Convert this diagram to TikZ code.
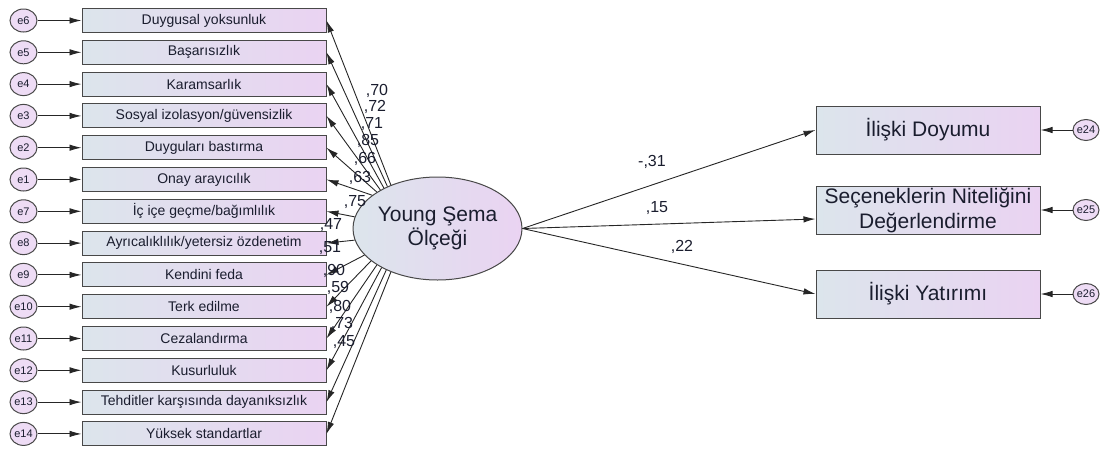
\documentclass[tikz,border=0pt]{standalone}
\usepackage{fontspec}
\setmainfont{Liberation Sans}
\usepackage{xcolor}
\usetikzlibrary{arrows.meta,shapes.geometric}
\definecolor{kutumavi}{HTML}{DCE5EC}
\definecolor{kutumor}{HTML}{EAD3F2}
\definecolor{hatamor}{HTML}{EEDCF5}
\definecolor{yazi}{HTML}{1A1D2E}
\definecolor{cizgi}{HTML}{484848}
\tikzset{
  gst/.style={draw=cizgi,line width=1pt,left color=kutumavi,right color=kutumor,minimum width=244pt,minimum height=24pt,inner sep=0pt,text=yazi,font=\fontsize{14}{16}\selectfont},
  sonuc/.style={draw=cizgi,line width=1pt,left color=kutumavi,right color=kutumor,minimum width=224pt,minimum height=48pt,inner sep=0pt,align=center,text=yazi,font=\fontsize{21}{25}\selectfont},
  latent/.style={ellipse,draw=cizgi,line width=1pt,left color=kutumavi,right color=kutumor,minimum width=165pt,minimum height=103pt,inner sep=0pt,align=center,text=yazi,font=\fontsize{21}{24}\selectfont},
  hata/.style={ellipse,draw=cizgi,line width=1pt,fill=hatamor,minimum width=27pt,minimum height=23pt,inner sep=0pt,text=yazi,font=\fontsize{11}{12}\selectfont},
  ok/.style={draw=black!85,line width=0.9pt,-{Latex[length=12pt,width=6.5pt]}},
  yk/.style={inner sep=0pt,text=yazi,font=\fontsize{16}{18}\selectfont}
}
\newcommand{\gosterge}[4]{\node[hata] (#1) at (23.5,#2) {#1}; \node[gst] (#3) at (204,#2) {#4}; \draw[ok] (#1) -- (#3);}

\begin{document}
\begin{tikzpicture}[x=1pt,y=-1pt]
\useasboundingbox (0,0) rectangle (1101,448);
\node[latent] (ysm) at (437.5,228.5) {Young Şema\\Ölçeği};
\gosterge{e6}{20.5}{b1}{Duygusal yoksunluk}
\gosterge{e5}{52.3}{b2}{Başarısızlık}
\gosterge{e4}{84.1}{b3}{Karamsarlık}
\gosterge{e3}{115.9}{b4}{Sosyal izolasyon/güvensizlik}
\gosterge{e2}{147.7}{b5}{Duyguları bastırma}
\gosterge{e1}{179.5}{b6}{Onay arayıcılık}
\gosterge{e7}{211.3}{b7}{İç içe geçme/bağımlılık}
\gosterge{e8}{243.1}{b8}{Ayrıcalıklılık/yetersiz özdenetim}
\gosterge{e9}{274.9}{b9}{Kendini feda}
\gosterge{e10}{306.7}{b10}{Terk edilme}
\gosterge{e11}{338.5}{b11}{Cezalandırma}
\gosterge{e12}{370.3}{b12}{Kusurluluk}
\gosterge{e13}{402.1}{b13}{Tehditler karşısında dayanıksızlık}
\gosterge{e14}{433.9}{b14}{Yüksek standartlar}
\draw[ok] (ysm.137) -- (b1.east); \node[yk] (l1) at (377,91) {,70};
\draw[ok] (ysm.140) -- (b2.east); \node[yk] (l2) at (375,107) {,72};
\draw[ok] (ysm.143) -- (b3.east); \node[yk] (l3) at (372,124) {,71};
\draw[ok] (ysm.146) -- (b4.east); \node[yk] (l4) at (368,141) {,85};
\draw[ok] (ysm.149) -- (b5.east); \node[yk] (l5) at (365,159) {,66};
\draw[ok] (ysm.153) -- (b6.east); \node[yk] (l6) at (360,178) {,63};
\draw[ok] (ysm.172) -- (b7.east); \node[yk] (l7) at (355,202) {,75};
\draw[ok] (ysm.188) -- (b8.east); \node[yk] (l8) at (331,225) {,47};
\draw[ok] (ysm.200) -- (b9.east); \node[yk] (l9) at (330,248) {,51};
\draw[ok] (ysm.206) -- (b10.east); \node[yk] (l10) at (334,271) {,90};
\draw[ok] (ysm.211) -- (b11.east); \node[yk] (l11) at (338,288) {,59};
\draw[ok] (ysm.215) -- (b12.east); \node[yk] (l12) at (340,307) {,80};
\draw[ok] (ysm.219) -- (b13.east); \node[yk] (l13) at (342,324) {,73};
\draw[ok] (ysm.223) -- (b14.east); \node[yk] (l14) at (344,342) {,45};
\node[sonuc] (doy) at (928,130) {İlişki Doyumu};
\node[sonuc] (sni) at (928,210) {Seçeneklerin Niteliğini\\Değerlendirme};
\node[sonuc] (yat) at (928,294) {İlişki Yatırımı};
\node[hata,minimum width=26pt,minimum height=21pt] (e24) at (1086,130) {e24};
\node[hata,minimum width=26pt,minimum height=21pt] (e25) at (1086,210) {e25};
\node[hata,minimum width=26pt,minimum height=21pt] (e26) at (1086,294) {e26};
\draw[ok] (e24) -- (doy); \draw[ok] (e25) -- (sni); \draw[ok] (e26) -- (yat);
\draw[ok] (ysm.east) -- (doy.west); \node[yk] (r1) at (652,162) {-,31};
\draw[ok] (ysm.east) -- ([yshift=-9pt]sni.west); \node[yk] (r2) at (657,208) {,15};
\draw[ok] (ysm.east) -- (yat.west); \node[yk] (r3) at (682,247) {,22};
\end{tikzpicture}
\end{document}
